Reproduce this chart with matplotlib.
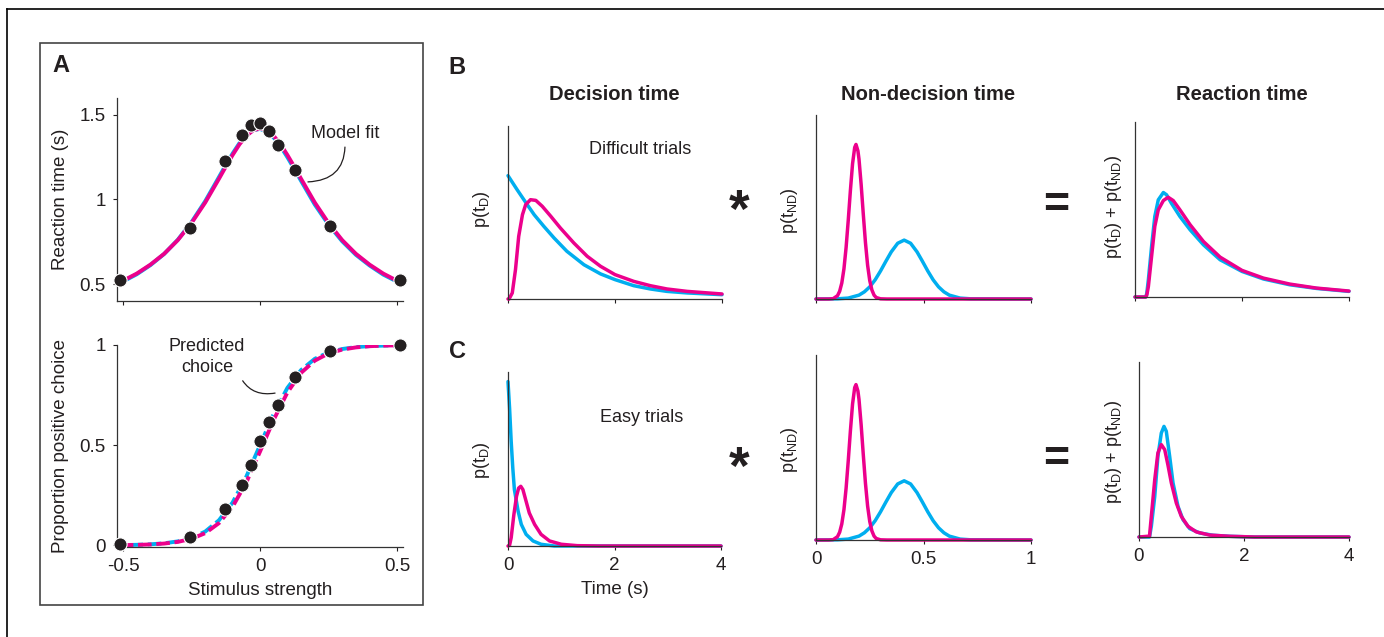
import matplotlib.pyplot as plt
from matplotlib.lines import Line2D
from matplotlib.patches import Rectangle

plt.rcParams['font.family'] = ['Liberation Sans', 'DejaVu Sans']
plt.rcParams['mathtext.fontset'] = 'custom'
plt.rcParams['mathtext.rm'] = 'Liberation Sans'
plt.rcParams['mathtext.default'] = 'regular'

BLUE = '#00aeef'
MAGENTA = '#ec008c'
INK = '#231f20'
W, H = 1384, 637

# Panel A: behaviour vs stimulus strength
stim = [-0.512, -0.256, -0.128, -0.064, -0.032, 0.0, 0.032, 0.064, 0.128, 0.256, 0.512]
rt_data = [0.522, 0.83, 1.23, 1.383, 1.44, 1.45, 1.405, 1.32, 1.173, 0.845, 0.525]
choice_data = [0.008, 0.042, 0.18, 0.30, 0.40, 0.52, 0.615, 0.70, 0.84, 0.97, 1.0]

rt_fit_x = [-0.512, -0.45, -0.4, -0.35, -0.3, -0.25, -0.2, -0.15, -0.125, -0.1, -0.075, -0.05, -0.025,
            0.0, 0.025, 0.05, 0.075, 0.1, 0.125, 0.15, 0.2, 0.25, 0.3, 0.35, 0.4, 0.45, 0.512]
rt_fit_magenta = [0.510, 0.562, 0.615, 0.679, 0.760, 0.861, 0.982, 1.122, 1.194, 1.263, 1.326, 1.376, 1.409,
                  1.420, 1.409, 1.376, 1.326, 1.263, 1.194, 1.122, 0.982, 0.861, 0.760, 0.679, 0.615, 0.562, 0.510]
rt_fit_blue = [0.505, 0.558, 0.612, 0.678, 0.762, 0.866, 0.990, 1.132, 1.204, 1.272, 1.333, 1.380, 1.410,
               1.417, 1.402, 1.366, 1.314, 1.250, 1.181, 1.110, 0.970, 0.852, 0.753, 0.673, 0.610, 0.556, 0.505]

choice_fit_x = [-0.512, -0.45, -0.4, -0.35, -0.3, -0.25, -0.2, -0.15, -0.1, -0.05, 0.0,
                0.05, 0.1, 0.15, 0.2, 0.25, 0.3, 0.35, 0.4, 0.45, 0.512]
choice_fit_magenta = [0.0011, 0.0025, 0.0048, 0.0092, 0.0175, 0.033, 0.061, 0.111, 0.193, 0.314, 0.468,
                      0.627, 0.763, 0.861, 0.922, 0.958, 0.977, 0.988, 0.994, 0.997, 0.9985]
choice_fit_blue = [0.0013, 0.0029, 0.0055, 0.0105, 0.020, 0.037, 0.069, 0.125, 0.214, 0.343, 0.5,
                   0.657, 0.786, 0.875, 0.931, 0.963, 0.980, 0.9895, 0.9945, 0.997, 0.9987]

stim_ticks = [-0.5, 0, 0.5]
stim_ticklabels = ['-0.5', '0', '0.5']
rt_ticks = [0.5, 1, 1.5]
rt_ticklabels = ['0.5', '1', '1.5']
choice_ticks = [0, 0.5, 1]
choice_ticklabels = ['0', '0.5', '1']

# Panel B: difficult trials (densities, arbitrary units)
dec_hard_t_blue = [0, 0.17, 0.36, 0.49, 0.67, 0.86, 1.1, 1.42, 1.73, 2.0, 2.35, 2.66, 2.97, 3.35, 4.0]
dec_hard_blue = [0.713, 0.632, 0.545, 0.487, 0.420, 0.353, 0.276, 0.198, 0.145, 0.112, 0.077, 0.058,
                 0.044, 0.035, 0.025]
dec_hard_t_mag = [0, 0.02, 0.08, 0.14, 0.2, 0.27, 0.33, 0.42, 0.52, 0.64, 0.8, 0.98, 1.23, 1.48, 1.73,
                  2.0, 2.35, 2.66, 2.97, 3.35, 4.0]
dec_hard_mag = [0, 0.0, 0.035, 0.17, 0.362, 0.487, 0.545, 0.574, 0.570, 0.536, 0.478, 0.41, 0.324, 0.247,
                0.189, 0.141, 0.102, 0.077, 0.058, 0.044, 0.029]

# Non-decision time densities (same for both rows)
nd_t_blue = [0, 0.1, 0.15, 0.2, 0.225, 0.25, 0.275, 0.3, 0.325, 0.35, 0.38, 0.41, 0.44, 0.47, 0.495,
             0.52, 0.545, 0.57, 0.595, 0.62, 0.67, 0.72, 1.0]
nd_blue = [0, 0.001, 0.005, 0.021, 0.039, 0.066, 0.104, 0.152, 0.205, 0.256, 0.303, 0.32, 0.303, 0.256,
           0.205, 0.152, 0.104, 0.066, 0.039, 0.021, 0.005, 0.001, 0]
nd_t_mag = [0, 0.06, 0.08, 0.1, 0.11, 0.12, 0.13, 0.14, 0.15, 0.16, 0.17, 0.18, 0.186, 0.195, 0.2, 0.21,
            0.22, 0.23, 0.24, 0.25, 0.26, 0.27, 0.28, 0.3, 0.33, 1.0]
nd_mag = [0, 0, 0.002, 0.018, 0.042, 0.087, 0.164, 0.28, 0.428, 0.59, 0.735, 0.824, 0.84, 0.805, 0.76,
          0.622, 0.46, 0.307, 0.184, 0.100, 0.049, 0.021, 0.008, 0.001, 0, 0]

rt_hard_t_blue = [0, 0.2, 0.22, 0.25, 0.31, 0.37, 0.435, 0.53, 0.59, 0.68, 0.84, 1.03, 1.28, 1.59, 2.0,
                  2.4, 2.89, 3.39, 4.0]
rt_hard_blue = [0, 0, 0.02, 0.099, 0.289, 0.46, 0.555, 0.597, 0.584, 0.536, 0.46, 0.384, 0.298, 0.213,
                0.146, 0.103, 0.07, 0.049, 0.032]
rt_hard_t_mag = [0, 0.2, 0.22, 0.25, 0.31, 0.37, 0.435, 0.53, 0.62, 0.715, 0.84, 1.03, 1.28, 1.59, 2.0,
                 2.4, 2.89, 3.39, 4.0]
rt_hard_mag = [0, 0, 0.01, 0.06, 0.232, 0.403, 0.498, 0.551, 0.57, 0.551, 0.498, 0.413, 0.317, 0.228,
               0.152, 0.108, 0.074, 0.051, 0.034]

# Panel C: easy trials
dec_easy_t_blue = [0, 0.03, 0.06, 0.09, 0.12, 0.19, 0.25, 0.34, 0.47, 0.62, 0.87, 1.5, 4.0]
dec_easy_blue = [0.945, 0.79, 0.60, 0.448, 0.324, 0.20, 0.124, 0.067, 0.029, 0.01, 0.0, 0, 0]
dec_easy_t_mag = [0, 0.03, 0.06, 0.11, 0.16, 0.2, 0.24, 0.28, 0.34, 0.4, 0.5, 0.62, 0.78, 1.0, 1.3, 1.7, 4.0]
dec_easy_mag = [0, 0.005, 0.048, 0.18, 0.286, 0.333, 0.343, 0.324, 0.257, 0.19, 0.124, 0.067, 0.029,
                0.01, 0.002, 0, 0]

rt_easy_t_blue = [0, 0.2, 0.235, 0.3, 0.36, 0.425, 0.476, 0.52, 0.584, 0.648, 0.743, 0.838, 0.965,
                  1.156, 1.41, 1.73, 2.2, 4.0]
rt_easy_blue = [0, 0, 0.061, 0.232, 0.461, 0.594, 0.632, 0.604, 0.461, 0.309, 0.175, 0.099, 0.048,
                0.023, 0.01, 0.004, 0, 0]
rt_easy_t_mag = [0, 0.2, 0.235, 0.3, 0.36, 0.425, 0.49, 0.55, 0.616, 0.711, 0.806, 0.933, 1.092, 1.346,
                 1.73, 2.2, 4.0]
rt_easy_mag = [0, 0.005, 0.118, 0.328, 0.48, 0.528, 0.499, 0.413, 0.309, 0.194, 0.118, 0.061, 0.029,
               0.011, 0.004, 0, 0]

time_ticks = [0, 2, 4]
time_ticklabels = ['0', '2', '4']
nd_ticks = [0, 0.5, 1]
nd_ticklabels = ['0', '0.5', '1']


def px_axes(fig, x0, y0, x1, y1):
    # axes from a pixel box (y measured from the top)
    return fig.add_axes([x0 / W, 1 - y1 / H, (x1 - x0) / W, (y1 - y0) / H])


def fig_text(fig, x, y, s, **kw):
    kw.setdefault('color', INK)
    return fig.text(x / W, 1 - y / H, s, **kw)


def clean_spines(ax):
    for side in ['top', 'right']:
        ax.spines[side].set_visible(False)
    for side in ['left', 'bottom']:
        ax.spines[side].set_color('#333333')
        ax.spines[side].set_linewidth(0.9)
    ax.tick_params(direction='out', length=3, width=0.8, colors=INK, labelsize=13.5, pad=5)
    ax.patch.set_alpha(0)


def density_axes(ax, xmax, ticks, labels):
    clean_spines(ax)
    ax.set_xlim(0, xmax)
    ax.set_ylim(0, 1)
    ax.set_yticks([])
    ax.set_xticks(ticks)
    ax.set_xticklabels(labels)


def density_pair(ax, tb, yb, tm, ym):
    ax.plot(tb, yb, color=BLUE, lw=2.5, solid_capstyle='round', clip_on=False)
    ax.plot(tm, ym, color=MAGENTA, lw=2.5, solid_capstyle='round', clip_on=False)


fig = plt.figure(figsize=(W / 100, H / 100), dpi=100)

# outer frame lines and panel A box
fig.add_artist(Line2D([7 / W, 1], [1 - 9 / H, 1 - 9 / H], color='black', lw=1.2))
fig.add_artist(Line2D([7 / W, 7 / W], [1 - 9 / H, 0], color='black', lw=1.2))
fig.add_artist(Rectangle((40 / W, 1 - 605 / H), 383 / W, 562 / H, transform=fig.transFigure,
                         fill=False, edgecolor='#444444', lw=1.2))

# A top: reaction time
ax = px_axes(fig, 117, 98, 403, 301)
clean_spines(ax)
ax.plot(rt_fit_x, rt_fit_blue, color=BLUE, lw=2.8)
ax.plot(rt_fit_x, rt_fit_magenta, color=MAGENTA, lw=2.8)
ax.plot(stim, rt_data, 'o', color='#231f20', ms=9.5, mec='white', mew=0.8, clip_on=False, zorder=5)
ax.set_xlim(-0.522, 0.522)
ax.set_ylim(0.4, 1.6)
ax.set_xticks(stim_ticks)
ax.set_xticklabels([])
ax.set_yticks(rt_ticks)
ax.set_yticklabels(rt_ticklabels)
ax.set_ylabel('Reaction time (s)', fontsize=13.5, color=INK, labelpad=8)
ax.annotate('Model fit', xy=(0.175, 1.104), xytext=(0.31, 1.393), fontsize=13, color=INK,
            ha='center', va='center',
            arrowprops=dict(arrowstyle='-', color=INK, lw=0.9, relpos=(0.5, 0.0), shrinkA=2, shrinkB=0,
                            connectionstyle='arc3,rad=-0.5'))

# A bottom: choice
ax = px_axes(fig, 117, 345, 403, 547)
clean_spines(ax)
ax.plot(choice_fit_x, choice_fit_blue, color=BLUE, lw=2.8, ls=(2.2, (3.5, 1.2)))
ax.plot(choice_fit_x, choice_fit_magenta, color=MAGENTA, lw=2.8, ls=(0, (3.5, 1.2)))
ax.plot(stim, choice_data, 'o', color='#231f20', ms=9.5, mec='white', mew=0.8, clip_on=False, zorder=5)
ax.set_xlim(-0.522, 0.522)
ax.set_ylim(-0.008, 1.0)
ax.set_xticks(stim_ticks)
ax.set_xticklabels(stim_ticklabels)
ax.set_yticks(choice_ticks)
ax.set_yticklabels(choice_ticklabels)
ax.set_ylabel('Proportion positive choice', fontsize=13.5, color=INK, labelpad=8)
ax.set_xlabel('Stimulus strength', fontsize=13.5, color=INK, labelpad=5)
ax.annotate('Predicted\nchoice', xy=(0.055, 0.76), xytext=(-0.193, 0.94), fontsize=13, color=INK,
            ha='center', va='center', linespacing=1.25,
            arrowprops=dict(arrowstyle='-', color=INK, lw=0.9, relpos=(0.91, 0.08), shrinkA=2, shrinkB=0,
                            connectionstyle='arc3,rad=0.4'))

# B row (difficult trials)
ax = px_axes(fig, 508, 126, 722, 299)
density_axes(ax, 4, time_ticks, [])
density_pair(ax, dec_hard_t_blue, dec_hard_blue, dec_hard_t_mag, dec_hard_mag)
ax = px_axes(fig, 816, 115, 1031, 299)
density_axes(ax, 1, nd_ticks, [])
density_pair(ax, nd_t_blue, nd_blue, nd_t_mag, nd_mag)
ax = px_axes(fig, 1135, 122, 1349, 297)
density_axes(ax, 4, time_ticks, [])
density_pair(ax, rt_hard_t_blue, rt_hard_blue, rt_hard_t_mag, rt_hard_mag)

# C row (easy trials)
ax = px_axes(fig, 508, 372, 721, 546)
density_axes(ax, 4, time_ticks, time_ticklabels)
density_pair(ax, dec_easy_t_blue, dec_easy_blue, dec_easy_t_mag, dec_easy_mag)
ax.set_xlabel('Time (s)', fontsize=13.5, color=INK, labelpad=5)
ax = px_axes(fig, 816, 355, 1031, 540)
density_axes(ax, 1, nd_ticks, nd_ticklabels)
density_pair(ax, nd_t_blue, nd_blue, nd_t_mag, nd_mag)
ax = px_axes(fig, 1139, 362, 1349, 537)
density_axes(ax, 4, time_ticks, time_ticklabels)
density_pair(ax, rt_easy_t_blue, rt_easy_blue, rt_easy_t_mag, rt_easy_mag)

# panel letters, column titles, operators, y labels
fig_text(fig, 61, 66, 'A', fontsize=17, fontweight='bold', ha='center', va='center')
fig_text(fig, 457, 68, 'B', fontsize=17, fontweight='bold', ha='center', va='center')
fig_text(fig, 457, 352, 'C', fontsize=17, fontweight='bold', ha='center', va='center')
fig_text(fig, 614, 94, 'Decision time', fontsize=14.5, fontweight='bold', ha='center', va='center')
fig_text(fig, 928, 94, 'Non-decision time', fontsize=14.5, fontweight='bold', ha='center', va='center')
fig_text(fig, 1242, 94, 'Reaction time', fontsize=14.5, fontweight='bold', ha='center', va='center')
fig_text(fig, 589, 150, 'Difficult trials', fontsize=13, ha='left', va='center')
fig_text(fig, 600, 417, 'Easy trials', fontsize=13, ha='left', va='center')

for y in [203, 460]:
    fig_text(fig, 739, y + 10, '*', fontsize=38, fontweight='bold', ha='center', va='center')
for y in [205, 460]:
    fig_text(fig, 1056, y, '=', fontsize=32, fontweight='bold', ha='center', va='center')

for y in [209, 460]:
    fig_text(fig, 481, y, 'p(t$_{D}$)', fontsize=13, rotation=90, ha='center', va='center')
for y in [211, 450]:
    fig_text(fig, 789, y, 'p(t$_{ND}$)', fontsize=13, rotation=90, ha='center', va='center')
for y in [207, 452]:
    fig_text(fig, 1114, y, 'p(t$_{D}$) + p(t$_{ND}$)', fontsize=13, rotation=90, ha='center', va='center')

fig.savefig('out.png', dpi=100)
